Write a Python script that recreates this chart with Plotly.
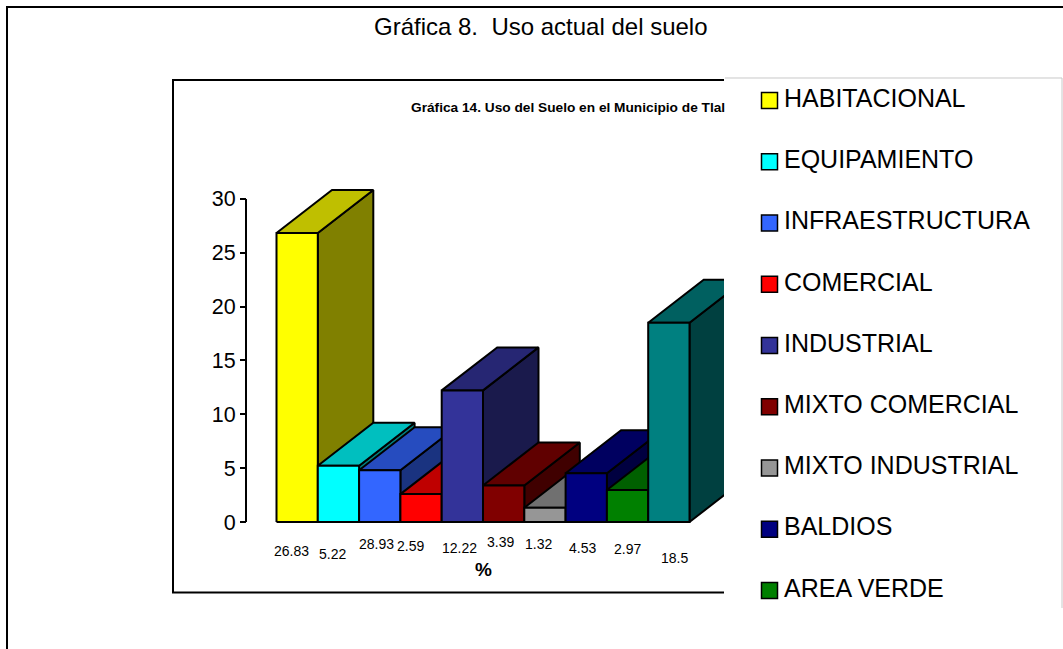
import plotly.graph_objects as go

CATEGORIES = ["HABITACIONAL", "EQUIPAMIENTO", "INFRAESTRUCTURA", "COMERCIAL", "INDUSTRIAL",
              "MIXTO COMERCIAL", "MIXTO INDUSTRIAL", "BALDIOS", "AREA VERDE", "OTROS"]
VALUES = [26.83, 5.22, 4.8, 2.59, 12.22, 3.39, 1.32, 4.53, 2.97, 18.5]
VALUE_LABELS = ["26.83", "5.22", "28.93", "2.59", "12.22", "3.39", "1.32", "4.53", "2.97", "18.5"]
LEGEND_ITEMS = CATEGORIES[:9]
Y_TICKS = [0, 5, 10, 15, 20, 25, 30]
COLORS = ["#FFFF00", "#00FFFF", "#3366FF", "#FF0000", "#333399",
          "#800000", "#969696", "#000080", "#008000", "#008080"]

W, H = 1063, 649
FONT = "Liberation Sans"
# layout of the 3-D look, in pixels
X0, BAR_W, Y0, UNIT = 276.5, 41.3, 522.0, 10.77
DEPTH_X, DEPTH_Y = 55.5 / BAR_W, 43.0 / UNIT
AXIS_X, PLOT_L, PLOT_R, PLOT_T, PLOT_B = 246, 236, 724, 80, 532
LABEL_X = [291, 332.5, 376, 410, 459, 500, 538, 582, 627, 674]
LABEL_Y = [551, 554, 543.5, 545.5, 547.5, 541.5, 543.5, 547.5, 549, 558]
LEG_L, LEG_SWATCH, LEG_TEXT = 750, 769.5, 784


def shade(hex_color, k):
    r, g, b = (int(hex_color[i:i + 2], 16) for i in (1, 3, 5))
    return f"rgb({round(r * k)},{round(g * k)},{round(b * k)})"


def poly(xs, ys, color, name):
    return go.Scatter(x=xs + xs[:1], y=ys + ys[:1], mode="lines", fill="toself", fillcolor=color,
                      line=dict(color="black", width=2), hoverinfo="skip", showlegend=False, name=name,
                      xaxis="x", yaxis="y")


fig = go.Figure()
x_lo = (PLOT_L - X0) / BAR_W
x_hi = (PLOT_R - X0) / BAR_W
x_axis = (AXIS_X - X0) / BAR_W

for i, (v, c, name) in enumerate(zip(VALUES, COLORS, CATEGORIES)):
    fig.add_trace(poly([i + 1, i + 1 + DEPTH_X, i + 1 + DEPTH_X, i + 1], [0, DEPTH_Y, v + DEPTH_Y, v], shade(c, 0.5), name))
    fig.add_trace(poly([i, i + 1, i + 1 + DEPTH_X, i + DEPTH_X], [v, v, v + DEPTH_Y, v + DEPTH_Y], shade(c, 0.75), name))
    fig.add_trace(poly([i, i + 1, i + 1, i], [0, 0, v, v], c, name))

# y axis line: only between first and last tick
fig.add_trace(go.Scatter(x=[x_axis, x_axis], y=[Y_TICKS[0], Y_TICKS[-1]], mode="lines",
                         line=dict(color="black", width=2), hoverinfo="skip", showlegend=False))

# legend as its own small subplot: x2 is in pixels from the swatch centre
fig.add_trace(go.Scatter(x=[0] * len(LEGEND_ITEMS), y=LEGEND_ITEMS, xaxis="x2", yaxis="y2",
                         mode="markers",
                         marker=dict(symbol="square", size=16, color=COLORS[:9], line=dict(color="black", width=1.5)),
                         cliponaxis=False, hoverinfo="skip", showlegend=False))
fig.add_trace(go.Scatter(x=[LEG_TEXT - LEG_SWATCH] * len(LEGEND_ITEMS), y=LEGEND_ITEMS, xaxis="x2", yaxis="y2",
                         mode="text", text=LEGEND_ITEMS, textposition="middle right",
                         textfont=dict(family=FONT, size=25, color="black"),
                         cliponaxis=False, hoverinfo="skip", showlegend=False))


def ann(text, x, y, size, bold=False):
    return dict(text=f"<b>{text}</b>" if bold else text, x=x / W, y=1 - y / H, xref="paper", yref="paper",
                xanchor="center", yanchor="middle", showarrow=False,
                font=dict(family=FONT, size=size, color="black"))


annotations = [
    ann("Gráfica 8.  Uso actual del suelo", 541, 26, 24),
    ann("Gráfica 14. Uso del Suelo en el Municipio de Tlal", 568, 107, 13.7, True),
    ann("%", 483, 569, 19, True),
]
annotations += [ann(t, x, y, 14) for t, x, y in zip(VALUE_LABELS, LABEL_X, LABEL_Y)]


def path_shape(path, color, width):
    return dict(type="path", path=path, xref="paper", yref="paper", line=dict(color=color, width=width), layer="below")


def P(x, y):
    return f"{x / W:.5f},{1 - y / H:.5f}"


shapes = [
    path_shape(f"M{P(1063, 7)} L{P(7, 7)} L{P(7, 649)}", "black", 2),
    path_shape(f"M{P(724, 80)} L{P(173, 80)} L{P(173, 592.5)} L{P(724, 592.5)}", "black", 2),
    path_shape(f"M{P(725, 78)} L{P(1062, 78)} L{P(1062, 608)}", "#c8c8c8", 1),
]

fig.update_layout(
    width=W, height=H, margin=dict(l=0, r=0, t=0, b=0, autoexpand=False), paper_bgcolor="white",
    plot_bgcolor="rgba(0,0,0,0)",
    showlegend=False, annotations=annotations, shapes=shapes,
    xaxis=dict(domain=[PLOT_L / W, PLOT_R / W], range=[x_lo, x_hi], visible=False, fixedrange=True, automargin=False),
    yaxis=dict(domain=[1 - PLOT_B / H, 1 - PLOT_T / H], range=[(Y0 - PLOT_B) / UNIT, (Y0 - PLOT_T) / UNIT],
               anchor="free", position=AXIS_X / W,
               tickvals=Y_TICKS, ticks="outside", ticklen=6, tickwidth=2, tickcolor="black",
               showgrid=False, zeroline=False, showline=False, automargin=False,
               tickfont=dict(family=FONT, size=21.5, color="black"), fixedrange=True),
    xaxis2=dict(domain=[LEG_L / W, 1], range=[LEG_L - LEG_SWATCH, W - LEG_SWATCH], visible=False, anchor="y2",
                fixedrange=True, automargin=False),
    yaxis2=dict(domain=[1 - 621 / H, 1 - 70 / H], type="category", categoryorder="array",
                categoryarray=LEGEND_ITEMS, range=[len(LEGEND_ITEMS) - 0.5, -0.5], visible=False,
                anchor="x2", fixedrange=True, automargin=False),
)

fig.write_html("out.html", config={"displayModeBar": False},
               post_script="document.body.style.margin='0';document.documentElement.style.overflow='hidden';")
